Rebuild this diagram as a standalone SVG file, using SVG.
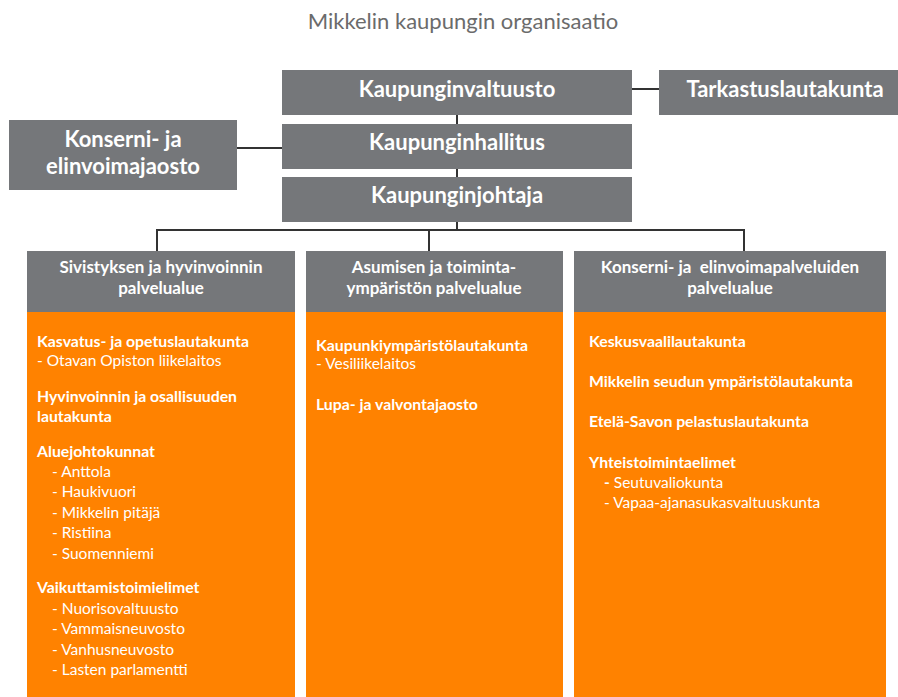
<svg xmlns="http://www.w3.org/2000/svg" width="898" height="697" viewBox="0 0 898 697">
<style>
.bg{fill:#ffffff}
.gbox{fill:#75777a}
.obox{fill:#ff8200}
.conn{stroke:#333333;stroke-width:2;fill:none}
.title{font-family:Lato,"Open Sans","Liberation Sans",sans-serif;font-size:22px;fill:#6b6b6b;text-anchor:middle}
.main{font-family:Lato,"Open Sans","Liberation Sans",sans-serif;font-size:22px;font-weight:bold;fill:#ffffff;text-anchor:middle}
.head{font-family:Lato,"Open Sans","Liberation Sans",sans-serif;font-size:17px;font-weight:bold;fill:#ffffff;text-anchor:middle}
.b{font-family:Lato,"Open Sans","Liberation Sans",sans-serif;font-size:15.8px;font-weight:bold;fill:#ffffff}
.r{font-family:Lato,"Open Sans","Liberation Sans",sans-serif;font-size:15.5px;fill:#ffffff}
</style>
<rect class="bg" x="0" y="0" width="898" height="697"/>
<text class="title" x="463" y="29">Mikkelin kaupungin organisaatio</text>

<g id="connectors">
  <line class="conn" x1="632" y1="89" x2="659" y2="89"/>
  <line class="conn" x1="237" y1="148" x2="282" y2="148"/>
  <line class="conn" x1="457" y1="115" x2="457" y2="124"/>
  <line class="conn" x1="457" y1="169" x2="457" y2="177"/>
  <line class="conn" x1="457" y1="222" x2="457" y2="230"/>
  <polyline class="conn" points="157,251 157,230 744,230 744,251"/>
  <line class="conn" x1="429" y1="230" x2="429" y2="251"/>
</g>

<g id="kaupunginvaltuusto">
  <rect class="gbox" x="282" y="70" width="350" height="45"/>
  <text class="main" x="457" y="97">Kaupunginvaltuusto</text>
</g>
<g id="tarkastuslautakunta">
  <rect class="gbox" x="659" y="70" width="239" height="45"/>
  <text class="main" x="785" y="97">Tarkastuslautakunta</text>
</g>
<g id="kaupunginhallitus">
  <rect class="gbox" x="282" y="124" width="350" height="45"/>
  <text class="main" x="457" y="150">Kaupunginhallitus</text>
</g>
<g id="konserni-jaosto">
  <rect class="gbox" x="9" y="120" width="228" height="70"/>
  <text class="main" x="123" y="147">Konserni- ja</text>
  <text class="main" x="123" y="174">elinvoimajaosto</text>
</g>
<g id="kaupunginjohtaja">
  <rect class="gbox" x="282" y="177" width="350" height="45"/>
  <text class="main" x="457" y="203">Kaupunginjohtaja</text>
</g>

<g id="sivistys">
  <rect class="gbox" x="27" y="251" width="268" height="61"/>
  <rect class="obox" x="27" y="312" width="268" height="385"/>
  <text class="head" x="161" y="273">Sivistyksen ja hyvinvoinnin</text>
  <text class="head" x="161" y="294">palvelualue</text>
  <text class="b" x="37" y="347">Kasvatus- ja opetuslautakunta</text>
  <text class="r" x="37" y="366">- Otavan Opiston liikelaitos</text>
  <text class="b" x="37" y="402">Hyvinvoinnin ja osallisuuden</text>
  <text class="b" x="37" y="422">lautakunta</text>
  <text class="b" x="37" y="457">Aluejohtokunnat</text>
  <text class="r" x="52" y="477">- Anttola</text>
  <text class="r" x="52" y="497">- Haukivuori</text>
  <text class="r" x="52" y="518">- Mikkelin pitäjä</text>
  <text class="r" x="52" y="538">- Ristiina</text>
  <text class="r" x="52" y="559">- Suomenniemi</text>
  <text class="b" x="37" y="593">Vaikuttamistoimielimet</text>
  <text class="r" x="52" y="614">- Nuorisovaltuusto</text>
  <text class="r" x="52" y="634">- Vammaisneuvosto</text>
  <text class="r" x="52" y="655">- Vanhusneuvosto</text>
  <text class="r" x="52" y="675">- Lasten parlamentti</text>
</g>

<g id="asuminen">
  <rect class="gbox" x="306" y="251" width="257" height="61"/>
  <rect class="obox" x="306" y="312" width="257" height="385"/>
  <text class="head" x="434" y="273">Asumisen ja toiminta-</text>
  <text class="head" x="434" y="294">ympäristön palvelualue</text>
  <text class="b" x="316" y="351">Kaupunkiympäristölautakunta</text>
  <text class="r" x="316" y="369">- Vesiliikelaitos</text>
  <text class="b" x="316" y="410">Lupa- ja valvontajaosto</text>
</g>

<g id="konserni-palvelut">
  <rect class="gbox" x="574" y="251" width="312" height="61"/>
  <rect class="obox" x="574" y="312" width="312" height="385"/>
  <text class="head" x="730" y="273">Konserni- ja &#160;elinvoimapalveluiden</text>
  <text class="head" x="730" y="294">palvelualue</text>
  <text class="b" x="589" y="347">Keskusvaalilautakunta</text>
  <text class="b" x="589" y="387">Mikkelin seudun ympäristölautakunta</text>
  <text class="b" x="589" y="427">Etelä-Savon pelastuslautakunta</text>
  <text class="b" x="589" y="468">Yhteistoimintaelimet</text>
  <text class="r" x="604" y="488"><tspan font-weight="bold">-</tspan> Seutuvaliokunta</text>
  <text class="r" x="604" y="508">- Vapaa-ajanasukasvaltuuskunta</text>
</g>
</svg>
